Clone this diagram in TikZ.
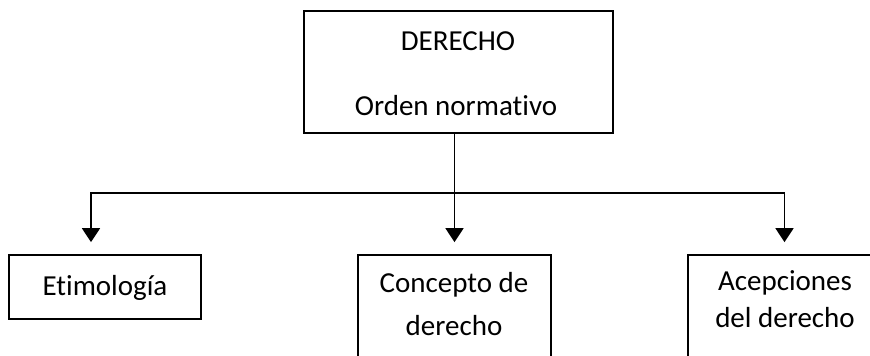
\documentclass[tikz,border=0pt]{standalone}
\usepackage{fontspec}
\setmainfont{Carlito}[Ligatures={NoCommon}]
\usetikzlibrary{arrows.meta}
\begin{document}
\begin{tikzpicture}[x=1pt,y=-1pt,
  box/.style={draw=black,line width=1.7pt,rectangle,inner sep=0pt},
  txt/.style={anchor=base,inner sep=0pt,font=\fontsize{29}{35}\selectfont},
  conn/.style={line width=1.7pt,-{Triangle[width=18pt,length=14pt]},shorten >=12pt},
  ]
\clip (0,0) rectangle (870,356);
\fill[white] (0,0) rectangle (870,356);
% boxes
\node[box,minimum width=309pt,minimum height=122pt] (top) at (458.5,72) {};
\node[box,minimum width=192pt,minimum height=64pt] (ety) at (105,287) {};
\node[box,minimum width=193pt,minimum height=120pt] (con) at (454.5,315) {};
\node[box,minimum width=193pt,minimum height=120pt] (acep) at (784.5,315) {};
% texts
\node[txt] (t1) at (458,50) {DERECHO};
\node[txt] (t2) at (456,115) {Orden normativo};
\node[txt] (t3) at (105,295) {Etimología};
\node[txt] (t4) at (454,292) {Concepto de};
\node[txt] (t5) at (454,335) {derecho};
\node[txt] (t6) at (785,290) {Acepciones};
\node[txt] (t7) at (785,327) {del derecho};
% connectors
\coordinate (bus) at (0,193);
\coordinate (etyin) at ([xshift=-14pt]ety.north);
\draw[conn] (con.north |- top.south) -- (con.north);
\draw[conn] (con.north |- bus) -- (etyin |- bus) -- (etyin);
\draw[conn] (con.north |- bus) -- (acep.north |- bus) -- (acep.north);
\end{tikzpicture}
\end{document}
